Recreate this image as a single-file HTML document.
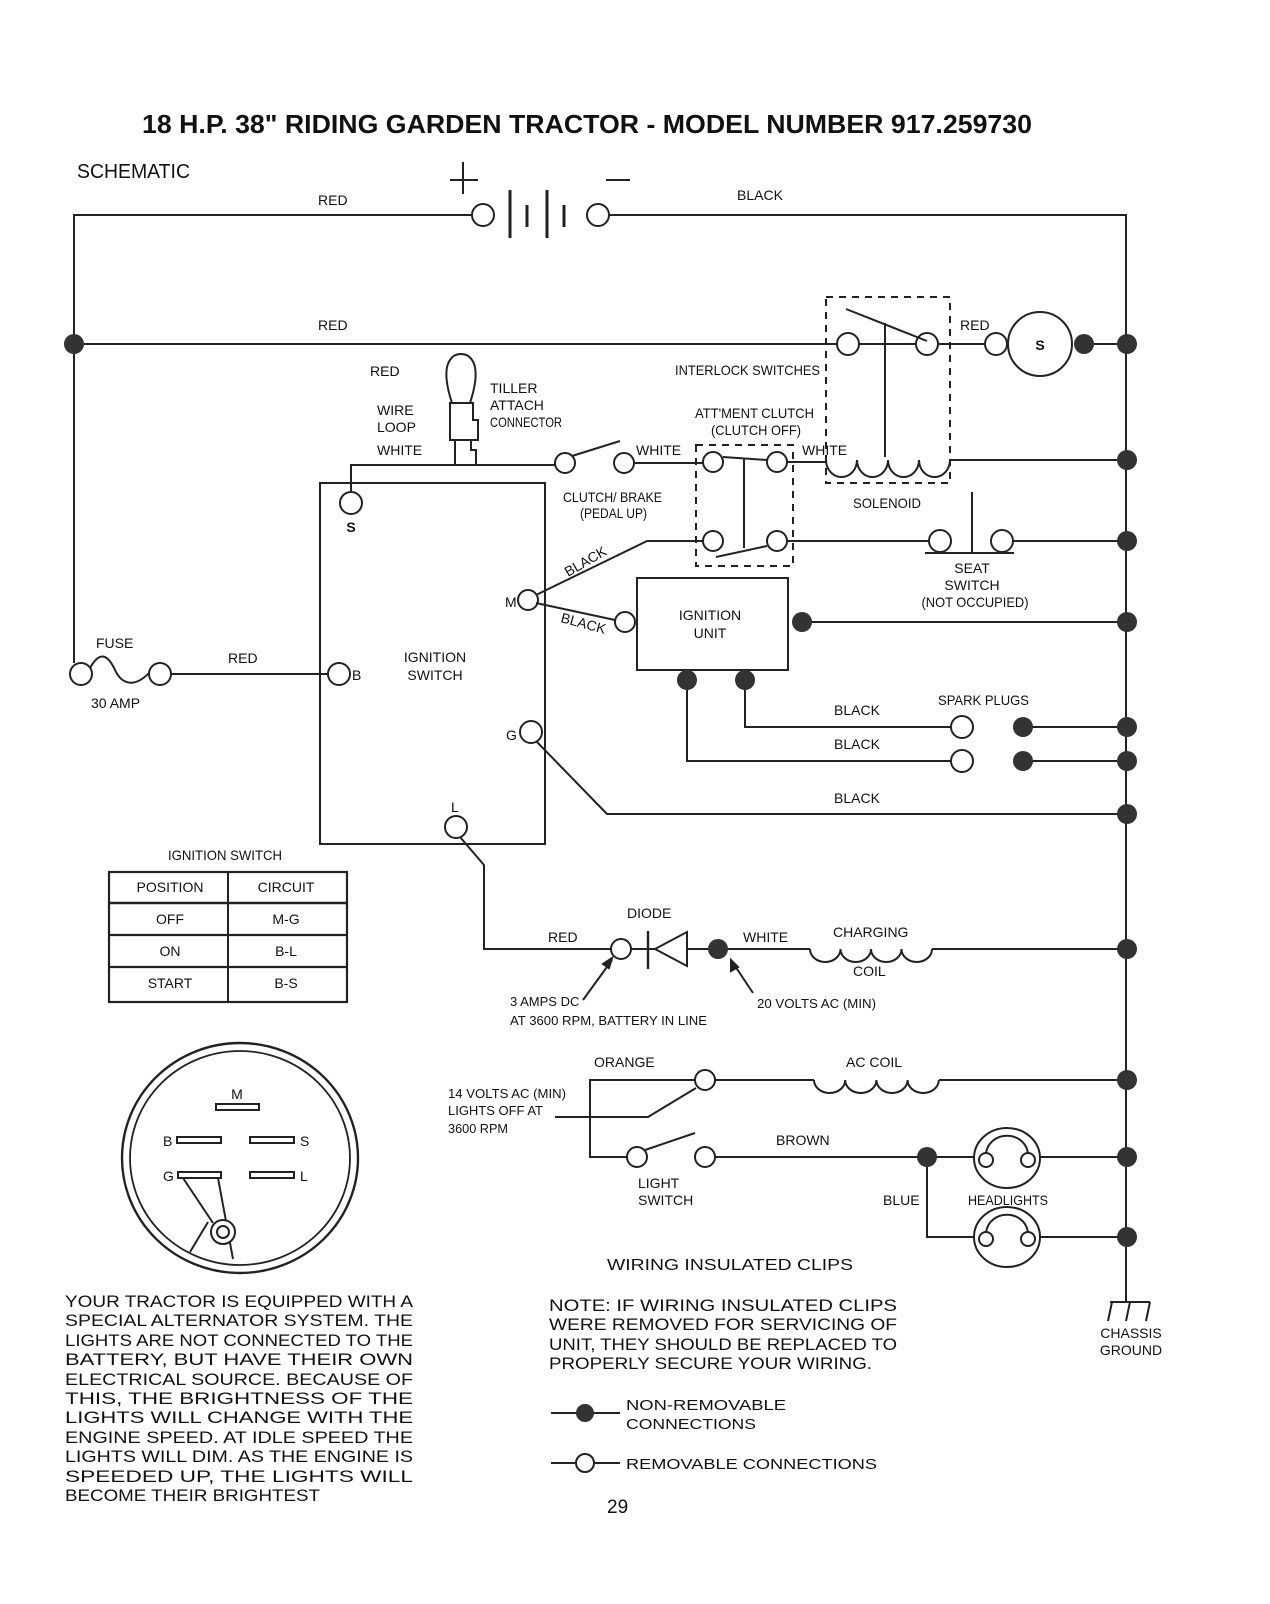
<!DOCTYPE html>
<html><head><meta charset="utf-8"><style>
html,body{margin:0;padding:0;background:#fff;}
svg{display:block;}
text{font-family:"Liberation Sans Narrow","Liberation Sans",sans-serif;fill:#111;}
</style></head><body>
<svg width="1270" height="1604" viewBox="0 0 1270 1604" xmlns="http://www.w3.org/2000/svg">
<g stroke="#222" stroke-width="2" fill="none">
<polyline points="74,663 74,215 472,215"/>
<circle cx="483" cy="215" r="11" fill="#fff"/>
<line x1="510" y1="190" x2="510" y2="238" stroke-width="3"/>
<line x1="527" y1="205" x2="527" y2="227" stroke-width="3"/>
<line x1="547" y1="190" x2="547" y2="238" stroke-width="3"/>
<line x1="564" y1="205" x2="564" y2="227" stroke-width="3"/>
<circle cx="598" cy="215" r="11" fill="#fff"/>
<polyline points="609,215 1126,215 1126,1302"/>
<line x1="463" y1="162" x2="463" y2="194"/><line x1="450" y1="180" x2="478" y2="180"/>
<line x1="606" y1="180" x2="630" y2="180"/>
<line x1="74" y1="344" x2="837" y2="344"/>
<line x1="859" y1="344" x2="916" y2="344"/>
<line x1="938" y1="344" x2="985" y2="344"/>
<line x1="1094" y1="344" x2="1126" y2="344"/>
<circle cx="848" cy="344" r="11" fill="#fff"/>
<circle cx="927" cy="344" r="11" fill="#fff"/>
<circle cx="996" cy="344" r="11" fill="#fff"/>
<circle cx="1040" cy="344" r="32" fill="#fff"/>
<line x1="846" y1="309" x2="927" y2="341"/>
<line x1="885" y1="323" x2="885" y2="457"/>
<rect x="826" y="297" width="124" height="186" stroke-dasharray="7,6"/>
<path d="M826,460 a15.5,17 0 0 0 31,0 a15.5,17 0 0 0 31,0 a15.5,17 0 0 0 31,0 a15.5,17 0 0 0 31,0"/>
<line x1="950" y1="460" x2="1126" y2="460"/>
<path d="M452,403 C446,385 444,368 450,360 C455,352 467,352 472,360 C478,368 476,385 470,403 Z"/>
<path d="M450,403 L473,403 L473,420 L478,420 L478,440 L450,440 Z"/>
<path d="M455,440 L471,440 L471,450 L476,450 L476,465 M455,440 L455,465"/>
<polyline points="351,492 351,465 555,465"/>
<circle cx="565" cy="463" r="10" fill="#fff"/>
<line x1="572" y1="456" x2="620" y2="441"/>
<circle cx="624" cy="463" r="10" fill="#fff"/>
<line x1="634" y1="463" x2="703" y2="463"/>
<circle cx="713" cy="462" r="10" fill="#fff"/>
<circle cx="777" cy="462" r="10" fill="#fff"/>
<line x1="723" y1="457" x2="767" y2="460"/>
<line x1="787" y1="462" x2="826" y2="462"/>
<line x1="744" y1="459" x2="744" y2="548"/>
<circle cx="713" cy="541" r="10" fill="#fff"/>
<circle cx="777" cy="541" r="10" fill="#fff"/>
<line x1="716" y1="557" x2="767" y2="546"/>
<rect x="696" y="445" width="97" height="121" stroke-dasharray="7,6"/>
<line x1="787" y1="541" x2="929" y2="541"/>
<circle cx="940" cy="541" r="11" fill="#fff"/>
<circle cx="1002" cy="541" r="11" fill="#fff"/>
<line x1="1013" y1="541" x2="1126" y2="541"/>
<line x1="972" y1="492" x2="972" y2="553"/>
<line x1="925" y1="553" x2="1014" y2="553"/>
<rect x="320" y="483" width="225" height="361"/>
<circle cx="351" cy="503" r="11" fill="#fff"/>
<circle cx="528" cy="600" r="10" fill="#fff"/>
<polyline points="536,595 647,541 703,541"/>
<line x1="536" y1="603" x2="615" y2="620"/>
<circle cx="625" cy="622" r="10" fill="#fff"/>
<rect x="637" y="578" width="151" height="92"/>
<line x1="802" y1="622" x2="1126" y2="622"/>
<polyline points="687,680 687,761 951,761"/>
<polyline points="745,680 745,727 951,727"/>
<circle cx="962" cy="727" r="11" fill="#fff"/>
<circle cx="962" cy="761" r="11" fill="#fff"/>
<line x1="1023" y1="727" x2="1126" y2="727"/>
<line x1="1023" y1="761" x2="1126" y2="761"/>
<circle cx="81" cy="674" r="11" fill="#fff"/>
<path d="M90,668 C100,650 108,655 115,670 C122,685 135,688 150,672"/>
<circle cx="160" cy="674" r="11" fill="#fff"/>
<line x1="171" y1="674" x2="328" y2="674"/>
<circle cx="339" cy="674" r="11" fill="#fff"/>
<circle cx="531" cy="732" r="11" fill="#fff"/>
<polyline points="537,742 607,814 1126,814"/>
<circle cx="456" cy="827" r="11" fill="#fff"/>
<polyline points="460,837 484,865 484,949 611,949"/>
<circle cx="621" cy="949" r="10" fill="#fff"/>
<line x1="631" y1="949" x2="655" y2="949"/>
<line x1="648" y1="931" x2="648" y2="969" stroke-width="2.4"/>
<path d="M655,949 L687,932 L687,966 Z"/>
<line x1="687" y1="949" x2="810" y2="949"/>
<path d="M810,949 a15.25,13 0 0 0 30.5,0 a15.25,13 0 0 0 30.5,0 a15.25,13 0 0 0 30.5,0 a15.25,13 0 0 0 30.5,0"/>
<line x1="932" y1="949" x2="1126" y2="949"/>
<line x1="583" y1="1000" x2="612" y2="960"/>
<path d="M612,958 L603,964 L609,968 Z" fill="#222"/>
<line x1="753" y1="993" x2="733" y2="963"/>
<path d="M731,960 L731,971 L738,967 Z" fill="#222"/>
<rect x="109" y="872" width="238" height="130" stroke-width="2.2"/>
<line x1="228" y1="872" x2="228" y2="1002"/>
<line x1="109" y1="903" x2="347" y2="903" stroke-width="2.6"/>
<line x1="109" y1="935" x2="347" y2="935" stroke-width="2.2"/>
<line x1="109" y1="967" x2="347" y2="967" stroke-width="2.2"/>
<polyline points="555,1117 648,1117 696,1088"/>
<polyline points="695,1080 590,1080 590,1157 627,1157"/>
<circle cx="705" cy="1080" r="10" fill="#fff"/>
<line x1="715" y1="1080" x2="814" y2="1080"/>
<path d="M814,1080 a15.6,13 0 0 0 31.2,0 a15.6,13 0 0 0 31.2,0 a15.6,13 0 0 0 31.2,0 a15.6,13 0 0 0 31.2,0"/>
<line x1="939" y1="1080" x2="1126" y2="1080"/>
<circle cx="637" cy="1157" r="10" fill="#fff"/>
<line x1="645" y1="1150" x2="695" y2="1133"/>
<circle cx="705" cy="1157" r="10" fill="#fff"/>
<line x1="715" y1="1157" x2="974" y2="1157"/>
<polyline points="927,1157 927,1237 974,1237"/>
<ellipse cx="1007" cy="1158" rx="33" ry="30" fill="#fff"/>
<ellipse cx="1007" cy="1237" rx="33" ry="30" fill="#fff"/>
<circle cx="986" cy="1160" r="7" fill="#fff"/><circle cx="1028" cy="1160" r="7" fill="#fff"/>
<path d="M986,1153 C990,1130 1024,1130 1028,1153"/>
<circle cx="986" cy="1239" r="7" fill="#fff"/><circle cx="1028" cy="1239" r="7" fill="#fff"/>
<path d="M986,1232 C990,1209 1024,1209 1028,1232"/>
<line x1="1040" y1="1157" x2="1126" y2="1157"/>
<line x1="1040" y1="1237" x2="1126" y2="1237"/>
<line x1="1110" y1="1302" x2="1150" y2="1302"/>
<line x1="1112" y1="1302" x2="1108" y2="1321"/>
<line x1="1130" y1="1302" x2="1126" y2="1321"/>
<line x1="1150" y1="1302" x2="1146" y2="1321"/>
<ellipse cx="240" cy="1158" rx="118" ry="115" stroke-width="2.4"/>
<ellipse cx="240" cy="1158" rx="110" ry="107" stroke-width="1.8"/>
<rect x="216" y="1104" width="43" height="6"/>
<rect x="177" y="1137" width="44" height="6"/>
<rect x="250" y="1137" width="44" height="6"/>
<rect x="178" y="1172" width="43" height="6"/>
<rect x="250" y="1172" width="44" height="6"/>
<line x1="183" y1="1178" x2="213" y2="1223"/>
<line x1="218" y1="1178" x2="233" y2="1259"/>
<line x1="208" y1="1222" x2="190" y2="1252"/>
<circle cx="223" cy="1232" r="12" fill="#fff"/>
<circle cx="223" cy="1232" r="6"/>
<line x1="551" y1="1413" x2="620" y2="1413"/>
<line x1="551" y1="1463" x2="620" y2="1463"/>
<circle cx="585" cy="1463" r="9" fill="#fff"/>
</g>
<g fill="#333">
<circle cx="74" cy="344" r="10"/>
<circle cx="1084" cy="344" r="10"/><circle cx="1127" cy="344" r="10"/>
<circle cx="1127" cy="460" r="10"/><circle cx="1127" cy="541" r="10"/>
<circle cx="802" cy="622" r="10"/><circle cx="1127" cy="622" r="10"/>
<circle cx="687" cy="680" r="10"/><circle cx="745" cy="680" r="10"/>
<circle cx="1023" cy="727" r="10"/><circle cx="1023" cy="761" r="10"/>
<circle cx="1127" cy="727" r="10"/><circle cx="1127" cy="761" r="10"/>
<circle cx="1127" cy="814" r="10"/><circle cx="1127" cy="949" r="10"/>
<circle cx="718" cy="949" r="10"/>
<circle cx="1127" cy="1080" r="10"/><circle cx="1127" cy="1157" r="10"/><circle cx="1127" cy="1237" r="10"/>
<circle cx="927" cy="1157" r="10"/>
<circle cx="585" cy="1413" r="9"/>
</g>
<text x="142" y="133" font-size="26" font-weight="bold" textLength="890" lengthAdjust="spacingAndGlyphs">18 H.P. 38" RIDING GARDEN TRACTOR - MODEL NUMBER 917.259730</text>
<text x="77" y="178" font-size="20" textLength="113" lengthAdjust="spacingAndGlyphs">SCHEMATIC</text>
<g font-size="14">
<text x="318" y="205">RED</text>
<text x="737" y="200">BLACK</text>
<text x="318" y="330">RED</text>
<text x="960" y="330">RED</text>
<text x="1040" y="350" text-anchor="middle" font-weight="bold">S</text>
<text x="370" y="376">RED</text>
<text x="490" y="393">TILLER</text>
<text x="490" y="410">ATTACH</text>
<text x="490" y="427" textLength="72" lengthAdjust="spacingAndGlyphs">CONNECTOR</text>
<text x="377" y="415">WIRE</text>
<text x="377" y="432">LOOP</text>
<text x="377" y="455">WHITE</text>
<text x="675" y="375" textLength="145" lengthAdjust="spacingAndGlyphs">INTERLOCK SWITCHES</text>
<text x="695" y="418" textLength="119" lengthAdjust="spacingAndGlyphs">ATT'MENT CLUTCH</text>
<text x="711" y="435" textLength="90" lengthAdjust="spacingAndGlyphs">(CLUTCH OFF)</text>
<text x="636" y="455">WHITE</text>
<text x="802" y="455">WHITE</text>
<text x="853" y="508" textLength="68" lengthAdjust="spacingAndGlyphs">SOLENOID</text>
<text x="563" y="502" textLength="99" lengthAdjust="spacingAndGlyphs">CLUTCH/ BRAKE</text>
<text x="580" y="518" textLength="67" lengthAdjust="spacingAndGlyphs">(PEDAL UP)</text>
<text x="351" y="532" text-anchor="middle" font-weight="bold">S</text>
<text x="972" y="573" text-anchor="middle">SEAT</text>
<text x="972" y="590" text-anchor="middle">SWITCH</text>
<text x="975" y="607" text-anchor="middle" textLength="107" lengthAdjust="spacingAndGlyphs">(NOT OCCUPIED)</text>
<text x="568" y="577" transform="rotate(-30 568 577)">BLACK</text>
<text x="560" y="622" transform="rotate(15 560 622)">BLACK</text>
<text x="505" y="607">M</text>
<text x="710" y="620" text-anchor="middle">IGNITION</text>
<text x="710" y="638" text-anchor="middle">UNIT</text>
<text x="96" y="648">FUSE</text>
<text x="228" y="663">RED</text>
<text x="352" y="680">B</text>
<text x="91" y="708">30 AMP</text>
<text x="435" y="662" text-anchor="middle">IGNITION</text>
<text x="435" y="680" text-anchor="middle">SWITCH</text>
<text x="938" y="705" textLength="91" lengthAdjust="spacingAndGlyphs">SPARK PLUGS</text>
<text x="834" y="715">BLACK</text>
<text x="834" y="749">BLACK</text>
<text x="834" y="803">BLACK</text>
<text x="506" y="740">G</text>
<text x="451" y="812">L</text>
<text x="225" y="860" text-anchor="middle" textLength="114" lengthAdjust="spacingAndGlyphs">IGNITION SWITCH</text>
<text x="170" y="892" text-anchor="middle">POSITION</text>
<text x="286" y="892" text-anchor="middle">CIRCUIT</text>
<text x="170" y="924" text-anchor="middle">OFF</text>
<text x="286" y="924" text-anchor="middle">M-G</text>
<text x="170" y="956" text-anchor="middle">ON</text>
<text x="286" y="956" text-anchor="middle">B-L</text>
<text x="170" y="988" text-anchor="middle">START</text>
<text x="286" y="988" text-anchor="middle">B-S</text>
<text x="627" y="918">DIODE</text>
<text x="548" y="942">RED</text>
<text x="743" y="942">WHITE</text>
<text x="833" y="937">CHARGING</text>
<text x="853" y="976">COIL</text>
<text x="510" y="1006" font-size="13">3 AMPS DC</text>
<text x="510" y="1025" font-size="13" textLength="197" lengthAdjust="spacingAndGlyphs">AT 3600 RPM, BATTERY IN LINE</text>
<text x="757" y="1008" font-size="13" textLength="119" lengthAdjust="spacingAndGlyphs">20 VOLTS AC (MIN)</text>
<text x="594" y="1067">ORANGE</text>
<text x="846" y="1067">AC COIL</text>
<text x="448" y="1098" font-size="13" textLength="118" lengthAdjust="spacingAndGlyphs">14 VOLTS AC (MIN)</text>
<text x="448" y="1115" font-size="13" textLength="95" lengthAdjust="spacingAndGlyphs">LIGHTS OFF AT</text>
<text x="448" y="1133" font-size="13" textLength="60" lengthAdjust="spacingAndGlyphs">3600 RPM</text>
<text x="776" y="1145">BROWN</text>
<text x="638" y="1188">LIGHT</text>
<text x="638" y="1205">SWITCH</text>
<text x="883" y="1205">BLUE</text>
<text x="968" y="1205" textLength="80" lengthAdjust="spacingAndGlyphs">HEADLIGHTS</text>
<text x="1131" y="1338" text-anchor="middle">CHASSIS</text>
<text x="1131" y="1355" text-anchor="middle">GROUND</text>
<text x="237" y="1099" text-anchor="middle">M</text>
<text x="163" y="1146">B</text>
<text x="300" y="1146">S</text>
<text x="163" y="1181">G</text>
<text x="300" y="1181">L</text>
</g>
<g font-size="17" style="font-family:'Liberation Sans',sans-serif">
<text x="607" y="1270" font-size="16" textLength="246" lengthAdjust="spacingAndGlyphs">WIRING INSULATED CLIPS</text>
<text x="549" y="1311" textLength="348" lengthAdjust="spacingAndGlyphs">NOTE:  IF  WIRING  INSULATED  CLIPS</text>
<text x="549" y="1330" textLength="348" lengthAdjust="spacingAndGlyphs">WERE REMOVED FOR SERVICING OF</text>
<text x="549" y="1350" textLength="348" lengthAdjust="spacingAndGlyphs">UNIT, THEY SHOULD BE REPLACED TO</text>
<text x="549" y="1369" textLength="323" lengthAdjust="spacingAndGlyphs">PROPERLY SECURE YOUR WIRING.</text>
<text x="626" y="1410" font-size="15" textLength="160" lengthAdjust="spacingAndGlyphs">NON-REMOVABLE</text>
<text x="626" y="1429" font-size="15" textLength="130" lengthAdjust="spacingAndGlyphs">CONNECTIONS</text>
<text x="626" y="1469" font-size="15" textLength="251" lengthAdjust="spacingAndGlyphs">REMOVABLE CONNECTIONS</text>
<text x="607" y="1513" font-size="19">29</text>
<text x="65" y="1307" textLength="348" lengthAdjust="spacingAndGlyphs">YOUR TRACTOR IS EQUIPPED WITH A</text>
<text x="65" y="1326" textLength="348" lengthAdjust="spacingAndGlyphs">SPECIAL ALTERNATOR SYSTEM. THE</text>
<text x="65" y="1346" textLength="348" lengthAdjust="spacingAndGlyphs">LIGHTS ARE NOT CONNECTED TO THE</text>
<text x="65" y="1365" textLength="348" lengthAdjust="spacingAndGlyphs">BATTERY,  BUT  HAVE  THEIR  OWN</text>
<text x="65" y="1385" textLength="348" lengthAdjust="spacingAndGlyphs">ELECTRICAL  SOURCE.  BECAUSE  OF</text>
<text x="65" y="1404" textLength="348" lengthAdjust="spacingAndGlyphs">THIS,  THE  BRIGHTNESS  OF  THE</text>
<text x="65" y="1423" textLength="348" lengthAdjust="spacingAndGlyphs">LIGHTS  WILL  CHANGE  WITH  THE</text>
<text x="65" y="1443" textLength="348" lengthAdjust="spacingAndGlyphs">ENGINE SPEED. AT IDLE SPEED THE</text>
<text x="65" y="1462" textLength="348" lengthAdjust="spacingAndGlyphs">LIGHTS WILL DIM. AS THE ENGINE IS</text>
<text x="65" y="1482" textLength="348" lengthAdjust="spacingAndGlyphs">SPEEDED  UP,  THE  LIGHTS  WILL</text>
<text x="65" y="1501" textLength="255" lengthAdjust="spacingAndGlyphs">BECOME THEIR BRIGHTEST</text>
</g>
</svg>
</body></html>
